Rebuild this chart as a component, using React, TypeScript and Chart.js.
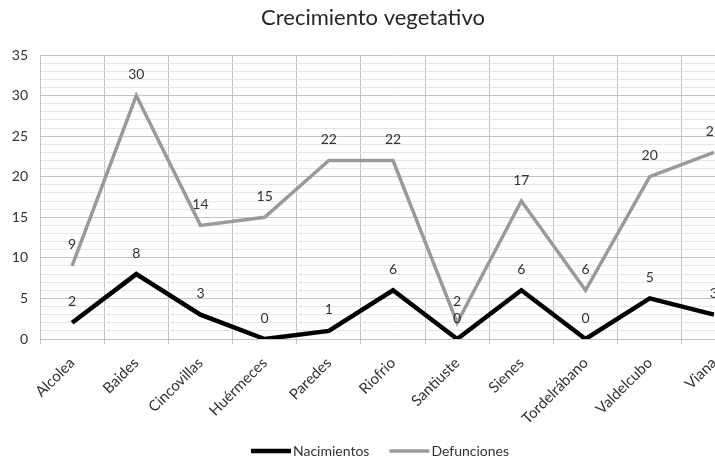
import React, { useEffect, useRef } from "react";
import { Chart, registerables } from "chart.js";

Chart.register(...registerables);

const chartTitle = "Crecimiento vegetativo";
const categories = [
  "Alcolea",
  "Baides",
  "Cincovillas",
  "Huérmeces",
  "Paredes",
  "Riofrio",
  "Santiuste",
  "Sienes",
  "Tordelrábano",
  "Valdelcubo",
  "Viana",
];
const seriesNames = ["Nacimientos", "Defunciones"];
const nacimientos = [2, 8, 3, 0, 1, 6, 0, 6, 0, 5, 3];
const defunciones = [9, 30, 14, 15, 22, 22, 2, 17, 6, 20, 23];
const yMin = 0;
const yMax = 35;
const yMajorStep = 5;
const yMinorStep = 1;

const FONT = "Lato, 'Open Sans', sans-serif";
const TEXT = "#333333";

const valueLabels = {
  id: "valueLabels",
  afterDatasetsDraw(chart: any) {
    const ctx = chart.ctx;
    ctx.save();
    ctx.font = `14px ${FONT}`;
    ctx.fillStyle = TEXT;
    ctx.textAlign = "center";
    ctx.textBaseline = "middle";
    chart.data.datasets.forEach((ds: any, i: number) => {
      const meta = chart.getDatasetMeta(i);
      meta.data.forEach((pt: any, j: number) => {
        ctx.fillText(String(ds.data[j]), pt.x, pt.y - 21);
      });
    });
    ctx.restore();
  },
};

const lineLegend = {
  id: "lineLegend",
  afterDraw(chart: any) {
    const ctx = chart.ctx;
    ctx.save();
    ctx.font = `14px ${FONT}`;
    const sample = 40;
    const gapText = 2;
    const gapItem = 20;
    const items = chart.data.datasets.map((ds: any) => ({
      text: ds.label,
      color: ds.borderColor,
      w: ds.borderWidth,
    }));
    const widths = items.map(
      (it: any) => sample + gapText + ctx.measureText(it.text).width
    );
    const total =
      widths.reduce((a: number, b: number) => a + b, 0) +
      gapItem * (items.length - 1);
    let x = chart.width / 2 - total / 2;
    const y = 451;
    items.forEach((it: any, k: number) => {
      ctx.strokeStyle = it.color;
      ctx.lineWidth = it.w;
      ctx.lineCap = "butt";
      ctx.beginPath();
      ctx.moveTo(x, y);
      ctx.lineTo(x + sample, y);
      ctx.stroke();
      ctx.fillStyle = TEXT;
      ctx.textAlign = "left";
      ctx.textBaseline = "middle";
      ctx.fillText(it.text, x + sample + gapText, y);
      x += widths[k] + gapItem;
    });
    ctx.restore();
  },
};

export default function App() {
  const ref = useRef<HTMLCanvasElement>(null);

  useEffect(() => {
    if (!ref.current) return;
    const chart = new Chart(ref.current, {
      type: "line",
      data: {
        labels: categories,
        datasets: [
          {
            label: seriesNames[0],
            data: nacimientos,
            borderColor: "#000000",
            backgroundColor: "#000000",
            borderWidth: 4.5,
            pointRadius: 0,
            tension: 0,
          },
          {
            label: seriesNames[1],
            data: defunciones,
            borderColor: "#9a9a9a",
            backgroundColor: "#9a9a9a",
            borderWidth: 3.5,
            pointRadius: 0,
            tension: 0,
          },
        ],
      },
      options: {
        responsive: false,
        animation: false,
        devicePixelRatio: 1,
        layout: { padding: { left: 0, right: 14, top: 0, bottom: 0 } },
        plugins: {
          legend: { display: false },
          tooltip: { enabled: false },
          title: {
            display: true,
            text: chartTitle,
            color: "#262626",
            font: { family: FONT, size: 22, weight: "normal" },
            padding: { top: 5, bottom: 23.6 },
          },
        },
        scales: {
          x: {
            offset: true,
            grid: {
              offset: true,
              color: "#c4c4c4",
              lineWidth: 1,
              tickLength: 5,
              drawTicks: true,
            },
            border: { color: "#c4c4c4" },
            ticks: {
              color: TEXT,
              font: { family: FONT, size: 15 },
              maxRotation: 45,
              minRotation: 45,
              autoSkip: false,
              padding: 10,
            },
            afterFit: (scale: any) => {
              scale.height = 121;
            },
          },
          y: {
            min: yMin,
            max: yMax,
            grid: {
              color: (c: any) =>
                c.tick && c.tick.value % yMajorStep === 0 ? "#c4c4c4" : "#e6e6e6",
              lineWidth: 1,
              drawTicks: false,
            },
            border: { color: "#c4c4c4" },
            ticks: {
              stepSize: yMinorStep,
              autoSkip: false,
              color: TEXT,
              font: { family: FONT, size: 14 },
              padding: 12,
              callback: (v: any) => (Number(v) % yMajorStep === 0 ? String(v) : ""),
            },
            afterFit: (scale: any) => {
              scale.width = 40;
            },
          },
        },
      },
      plugins: [valueLabels, lineLegend],
    });
    return () => chart.destroy();
  }, []);

  return (
    <div
      style={{
        position: "fixed",
        left: 0,
        top: 0,
        width: 715,
        height: 460,
        overflow: "hidden",
        background: "#ffffff",
      }}
    >
      <canvas ref={ref} width={760} height={460} style={{ display: "block" }} />
    </div>
  );
}
